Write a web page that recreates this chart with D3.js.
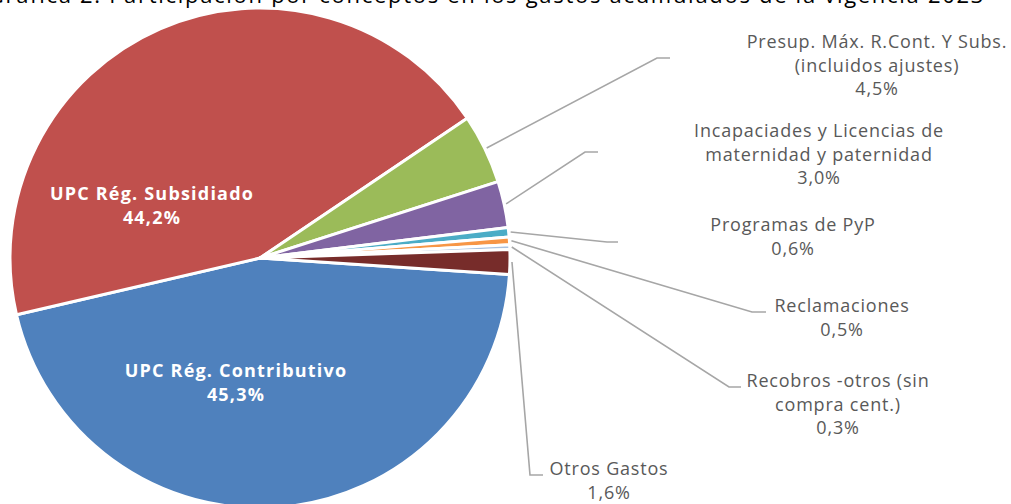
<!DOCTYPE html>
<html><head><meta charset="utf-8">
<script src="https://cdn.jsdelivr.net/npm/d3@7"></script>
<style>
html,body{margin:0;padding:0;background:#fff;overflow:hidden;}
svg{display:block;}
</style></head>
<body>
<svg id="chart" width="1011" height="504"></svg>
<script>
// ---- data ----
const categories = [
  "UPC Rég. Contributivo",
  "UPC Rég. Subsidiado",
  "Presup. Máx. R.Cont. Y Subs. (incluidos ajustes)",
  "Incapaciades y Licencias de maternidad y paternidad",
  "Programas de PyP",
  "Reclamaciones",
  "Recobros -otros (sin compra cent.)",
  "Otros Gastos"
];
const values = [45.3, 44.2, 4.5, 3.0, 0.6, 0.5, 0.3, 1.6];
const valueLabels = ["45,3%", "44,2%", "4,5%", "3,0%", "0,6%", "0,5%", "0,3%", "1,6%"];
const colors = ["#4F81BD", "#C0504D", "#9BBB59", "#8064A2", "#4BACC6", "#F79646", "#A9C1DF", "#772C2A"];
const titleText = "Gráfica 2. Participación por conceptos en los gastos acumulados de la vigencia 2023";

// ---- layout (label placement) ----
const cx = 260, cy = 258, R = 250;
const startDeg = 93.8;
const labelLines = [
  ["UPC Rég. Contributivo"],
  ["UPC Rég. Subsidiado"],
  ["Presup. Máx. R.Cont. Y Subs.", "(incluidos ajustes)"],
  ["Incapaciades y Licencias de", "maternidad y paternidad"],
  ["Programas de PyP"],
  ["Reclamaciones"],
  ["Recobros -otros (sin", "compra cent.)"],
  ["Otros Gastos"]
];
const labelLayout = [
  {inside: true, x: 236, y: 377},
  {inside: true, x: 152, y: 200},
  {x: 877, y: 48, elbow: [657, 58], end: [670, 58]},
  {x: 819, y: 137, elbow: [585, 152], end: [598, 152]},
  {x: 793, y: 231, elbow: [607, 242], end: [618, 242]},
  {x: 842, y: 312, elbow: [752, 312], end: [766, 312]},
  {x: 838, y: 387, elbow: [729, 387], end: [741, 387]},
  {x: 609, y: 475, elbow: [530, 475], end: [543, 475]}
];
const lineH = 23.5;

const svg = d3.select("#chart");

// title (cut off at the top like the reference)
svg.append("text")
  .attr("x", 985).attr("y", 3)
  .attr("text-anchor", "end")
  .attr("font-family", "Open Sans, sans-serif")
  .attr("font-size", 22)
  .attr("letter-spacing", 1.7)
  .attr("fill", "#000")
  .text(titleText);

const pie = d3.pie().sort(null)
  .startAngle(startDeg * Math.PI / 180)
  .endAngle(startDeg * Math.PI / 180 + 2 * Math.PI);
const arcs = pie(values);
const arc = d3.arc().innerRadius(0).outerRadius(R);

const g = svg.append("g").attr("transform", `translate(${cx},${cy})`);
g.selectAll("path.slice").data(arcs).enter().append("path")
  .attr("class", "slice")
  .attr("d", arc)
  .attr("fill", (d, i) => colors[i])
  .attr("stroke", "#fff")
  .attr("stroke-width", 3)
  .attr("stroke-linejoin", "round");

// leader lines
arcs.forEach((d, i) => {
  const L = labelLayout[i];
  if (L.inside) return;
  const a = (d.startAngle + d.endAngle) / 2;
  const sx = cx + Math.sin(a) * (R + 2);
  const sy = cy - Math.cos(a) * (R + 2);
  svg.append("polyline")
    .attr("points", [[sx, sy], L.elbow, L.end].map(p => p.join(",")).join(" "))
    .attr("fill", "none")
    .attr("stroke", "#A6A6A6")
    .attr("stroke-width", 1.6);
});

// labels
arcs.forEach((d, i) => {
  const L = labelLayout[i];
  const lines = labelLines[i].concat([valueLabels[i]]);
  const t = svg.append("text")
    .attr("text-anchor", "middle")
    .attr("font-family", "Open Sans, sans-serif")
    .attr("font-size", L.inside ? 18 : 18)
    .attr("font-weight", L.inside ? 700 : 400)
    .attr("letter-spacing", L.inside ? 1.2 : 0.8)
    .attr("fill", L.inside ? "#fff" : "#595959");
  lines.forEach((ln, k) => {
    t.append("tspan").attr("x", L.x).attr("y", L.y + k * lineH).text(ln);
  });
});
</script>
</body></html>
